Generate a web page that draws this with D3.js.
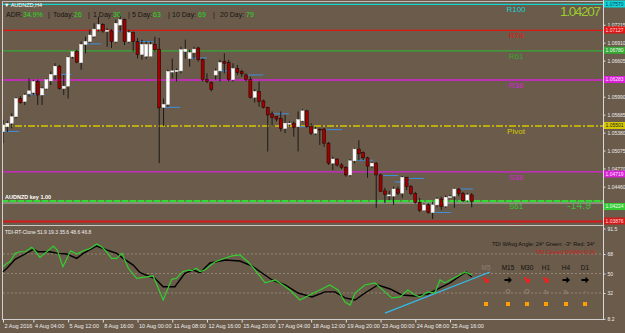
<!DOCTYPE html>
<html><head><meta charset="utf-8">
<script src="https://cdn.jsdelivr.net/npm/d3@7"></script>
<style>
html,body{margin:0;padding:0;background:#6b5b4a;}
svg{display:block;}
text{font-family:"Liberation Sans",Arial,sans-serif;}
</style></head><body>
<svg id="c" width="625" height="333"></svg>
<script>
// ---- DATA ----
// H4 candles AUDNZD: [open, high, low, close]
const candles = [
[1.0540,1.0560,1.0520,1.0551],[1.0548,1.0558,1.0539,1.0554],[1.0554,1.0571,1.0545,1.0565],[1.0565,1.0598,1.0562,1.0596],
[1.0596,1.0600,1.0587,1.0589],[1.0591,1.0605,1.0585,1.0602],[1.0604,1.0630,1.0599,1.0609],[1.0606,1.0628,1.0602,1.0625],
[1.0625,1.0628,1.0585,1.0602],[1.0602,1.0616,1.0585,1.0613],[1.0613,1.0630,1.0611,1.0628],[1.0626,1.0642,1.0619,1.0637],
[1.0636,1.0656,1.0628,1.0651],[1.0651,1.0653,1.0611,1.0613],[1.0613,1.0636,1.0602,1.0617],[1.0617,1.0667,1.0596,1.0666],
[1.0667,1.0677,1.0664,1.0676],[1.0676,1.0679,1.0656,1.0658],[1.0657,1.0693,1.0645,1.0688],[1.0688,1.0701,1.0673,1.0693],
[1.0693,1.0713,1.0690,1.0704],[1.0702,1.0724,1.0699,1.0714],[1.0714,1.0735,1.0710,1.0722],[1.0722,1.0724,1.0708,1.0711],
[1.0711,1.0716,1.0684,1.0712],[1.0711,1.0714,1.0682,1.0693],[1.0693,1.0730,1.0690,1.0724],[1.0721,1.0741,1.0710,1.0730],
[1.0730,1.0732,1.0687,1.0693],[1.0693,1.0713,1.0690,1.0708],[1.0708,1.0710,1.0676,1.0693],[1.0693,1.0699,1.0664,1.0671],
[1.0671,1.0696,1.0662,1.0688],[1.0668,1.0693,1.0663,1.0688],[1.0668,1.0693,1.0667,1.0688],[1.0688,1.0701,1.0676,1.0679],
[1.0680,1.0699,1.0486,1.0580],[1.0581,1.0596,1.0549,1.0586],[1.0586,1.0645,1.0582,1.0642],[1.0641,1.0664,1.0630,1.0643],
[1.0642,1.0647,1.0625,1.0644],[1.0643,1.0684,1.0639,1.0679],[1.0676,1.0696,1.0664,1.0680],[1.0664,1.0679,1.0650,1.0674],
[1.0674,1.0684,1.0664,1.0680],[1.0682,1.0684,1.0659,1.0662],[1.0662,1.0664,1.0625,1.0628],[1.0628,1.0639,1.0622,1.0625],
[1.0623,1.0625,1.0608,1.0611],[1.0636,1.0647,1.0628,1.0643],[1.0643,1.0662,1.0625,1.0657],[1.0659,1.0673,1.0639,1.0656],
[1.0657,1.0662,1.0625,1.0628],[1.0628,1.0656,1.0625,1.0647],[1.0647,1.0653,1.0636,1.0640],[1.0642,1.0645,1.0633,1.0638],
[1.0636,1.0639,1.0625,1.0628],[1.0628,1.0633,1.0596,1.0598],[1.0598,1.0612,1.0589,1.0608],[1.0608,1.0625,1.0582,1.0591],
[1.0592,1.0594,1.0579,1.0581],[1.0581,1.0582,1.0506,1.0568],[1.0570,1.0574,1.0548,1.0564],[1.0565,1.0566,1.0557,1.0561],
[1.0562,1.0574,1.0540,1.0545],[1.0545,1.0568,1.0537,1.0554],[1.0554,1.0557,1.0548,1.0554],[1.0554,1.0557,1.0531,1.0547],
[1.0548,1.0574,1.0506,1.0560],[1.0558,1.0578,1.0556,1.0575],[1.0575,1.0577,1.0546,1.0548],[1.0548,1.0554,1.0534,1.0537],
[1.0537,1.0548,1.0534,1.0544],[1.0544,1.0545,1.0517,1.0543],[1.0544,1.0546,1.0514,1.0520],[1.0520,1.0522,1.0483,1.0486],
[1.0486,1.0497,1.0474,1.0493],[1.0493,1.0494,1.0480,1.0483],[1.0483,1.0486,1.0476,1.0479],[1.0479,1.0481,1.0463,1.0466],
[1.0466,1.0493,1.0463,1.0490],[1.0490,1.0512,1.0486,1.0510],[1.0510,1.0525,1.0491,1.0502],[1.0504,1.0506,1.0491,1.0495],
[1.0495,1.0497,1.0461,1.0481],[1.0481,1.0488,1.0478,1.0486],[1.0486,1.0488,1.0410,1.0466],[1.0466,1.0468,1.0437,1.0438],
[1.0439,1.0444,1.0418,1.0433],[1.0432,1.0439,1.0423,1.0432],[1.0430,1.0446,1.0415,1.0442],[1.0442,1.0446,1.0432,1.0435],
[1.0435,1.0464,1.0427,1.0462],[1.0462,1.0463,1.0440,1.0446],[1.0446,1.0449,1.0432,1.0434],[1.0434,1.0437,1.0417,1.0419],
[1.0419,1.0427,1.0403,1.0406],[1.0406,1.0418,1.0405,1.0415],[1.0415,1.0418,1.0400,1.0402],[1.0402,1.0420,1.0391,1.0415],
[1.0415,1.0428,1.0411,1.0425],[1.0425,1.0429,1.0406,1.0412],[1.0413,1.0431,1.0410,1.0428],[1.0429,1.0432,1.0427,1.0429],
[1.0430,1.0444,1.0410,1.0442],[1.0442,1.0443,1.0430,1.0434],[1.0434,1.0437,1.0420,1.0422],[1.0423,1.0435,1.0420,1.0432],
[1.0432,1.0435,1.0411,1.0421]
];
// short blue level segments: [fromBar, toBar, price]
const blueSegs = [
[0,3.7,1.0540],[5.8,9.7,1.0603],[13.1,15.7,1.0637],[18.9,22.6,1.0689],[25.3,27.6,1.0711],[31.1,34.6,1.0693],
[36.9,40.8,1.0581],[43.1,47,1.0665],[50,53,1.0643],[56.5,60,1.0636],[62.2,65.9,1.0570],[68.2,70.3,1.0548],
[74.2,78.1,1.0543],[81.6,85.3,1.0491],[87.6,91,1.0465],[90.3,93.8,1.0454],[93.5,97,1.0460],[99.5,103.2,1.0402],[105.3,108.3,1.0442]
];
const levelNames  = ["R100","R78","R61","R38","Pivot","S38","S61","S78"];
const levelValues = [1.07570,1.07127,1.06780,1.06283,1.05501,1.04719,1.04224,1.03876];
const levelColors = ["#11d4d4","#e01515","#35a835","#d822d8","#d6c800","#d822d8","#33cc33","#d21a1a"];
const priceTicks = [1.07215,1.06910,1.06605,1.05990,1.05685,1.05380,1.05075,1.04770,1.04460];
const xTickBars   = [0,7,15,23,31,39,47,55,63,71,79,87,95,103];
const xTickLabels = ["2 Aug 2016","4 Aug 04:00","5 Aug 12:00","8 Aug 16:00","10 Aug 00:00","11 Aug 08:00","12 Aug 16:00",
  "15 Aug 20:00","17 Aug 04:00","18 Aug 12:00","19 Aug 20:00","23 Aug 00:00","24 Aug 08:00","25 Aug 16:00"];
// TDI sub-window: [bar, value]
const tdiGreen = [[0,56.3],[0.9,59.4],[1.6,60.9],[2.8,68.6],[3.9,70.1],[5.1,70.1],[6.6,74.2],[7.4,71.0],[8.5,64.9],[10.1,70.1],
[11.6,75.4],[12.5,71.7],[13.8,56.3],[15.6,71.0],[17.0,68.0],[18.5,71.0],[20.0,72.9],[21.6,77.2],[22.7,74.7],[23.9,70.1],
[25.0,64.0],[26.2,64.0],[27.4,68.6],[28.9,54.8],[30.8,45.6],[34.6,47.7],[35.0,44.0],[36.9,25.5],[38.9,44.6],[40.0,45.6],
[41.4,51.7],[42.7,53.2],[43.5,52.6],[44.6,54.8],[45.4,51.7],[46.5,53.2],[48.8,60.6],[51.2,64.3],[52.8,66.2],[54.6,67.1],
[56.5,60.6],[58.1,53.2],[60.4,41.3],[62.7,44.0],[64.5,39.4],[66.1,34.8],[68.4,25.5],[70.7,30.2],[73.0,34.8],[75.3,39.4],
[77.2,34.8],[78.8,23.7],[80.0,20.9],[81.1,32.0],[83.4,39.4],[85.7,41.3],[88.0,33.0],[89.6,27.5],[91.5,28.4],[93.3,34.8],
[94.9,30.2],[96.1,28.4],[97.9,33.0],[99.5,32.0],[100.7,44.0],[101.8,41.3],[103.0,44.0],[104.8,47.7],[106.5,51.4],[108,48.6]];
const tdiBlack = [[0,51.7],[0.9,54.8],[2.8,63.1],[5.1,68.0],[7.0,72.3],[8.1,70.1],[10.8,70.1],[12.7,68.6],[14.7,68.0],[17.0,64.0],
[18.5,68.6],[21.6,75.4],[23.9,71.7],[26.2,68.6],[27.7,64.0],[30.0,57.8],[31.6,50.7],[33.9,47.0],[35.0,45.6],[36.9,37.8],
[39.6,37.8],[41.9,50.2],[43.8,53.2],[45.4,50.7],[47.7,59.7],[51.2,62.5],[54.6,61.5],[57.4,56.9],[59.7,50.5],[62.0,44.0],
[65.0,39.4],[68.0,32.0],[71.2,28.4],[74.2,33.0],[76.5,33.0],[78.8,27.5],[81.1,25.5],[83.4,32.0],[86.4,39.4],[89.2,35.7],
[91.9,30.2],[94.9,29.3],[97.9,31.1],[100.7,36.7],[103.0,41.3],[105.3,47.7],[106.7,51.4],[108,46.8]];
const tdiTrend = [[88.0,13.5],[112.2,51.4]];
const tdiLevels = [68,50,32];
const tdiTicks = [91.5,68,50,32,8.2];
const tfNames = ["M5","M15","M30","H1","H4","D1"];
const tfDir   = ["down","flat","down","down","flat","flat"];
const tfMarks = ["\u00b7","O","O","\u044a","\u044a","\u00b7"];
const adrParts = [["ADR:",0],["34.9%",1],["|",0],["Today:",0],["26",1],["|",0],["1 Day:",0],["30",1],["|",0],
  ["5 Day:",0],["63",1],["|",0],["10 Day:",0],["69",1],["|",0],["20 Day:",0],["79",1]];
const adrX = [6,23,48,53,74,88,93,113,128,132,153,168,172,198,213,220,246];
const lastPrice = 1.04207;
const spreadText = "-14.9";

// ---- DRAW ----
const svg = d3.select("#c");
const x  = d3.scaleLinear().domain([0,108]).range([3,471.7]);
const yP = d3.scaleLinear().domain([1.03893,1.07636]).range([220,0]);
const yT = d3.scaleLinear().domain([8,93.85]).range([319,226]);

svg.append("rect").attr("width",625).attr("height",333).attr("fill","#6b5b4a");
const defs = svg.append("defs");
defs.append("clipPath").attr("id","cm").append("rect").attr("x",2).attr("y",1.5).attr("width",601).attr("height",223);
defs.append("clipPath").attr("id","cs").append("rect").attr("x",2).attr("y",226).attr("width",601).attr("height",93);

const gm = svg.append("g").attr("clip-path","url(#cm)");

// level lines
levelValues.forEach((v,i)=>{
  const ln = gm.append("line").attr("x1",2).attr("x2",603).attr("y1",yP(v)+0.5).attr("y2",yP(v)+0.5)
    .attr("stroke",levelColors[i]).attr("stroke-width", i===7?2:1.3);
  if(levelNames[i]==="Pivot") ln.attr("stroke-dasharray","7,2,2,2");
});
// bid line
gm.append("line").attr("x1",2).attr("x2",603).attr("y1",yP(lastPrice)+1.5).attr("y2",yP(lastPrice)+1.5)
  .attr("stroke","#b8b8b8").attr("stroke-width",1);
// S61 dashed overlay
gm.append("line").attr("x1",2).attr("x2",603).attr("y1",yP(levelValues[6])+0.5).attr("y2",yP(levelValues[6])+0.5)
  .attr("stroke","#38d838").attr("stroke-width",2.2).attr("stroke-dasharray","6,2");

// blue segments
gm.selectAll("line.bs").data(blueSegs).enter().append("line").attr("class","bs")
  .attr("x1",d=>x(d[0])).attr("x2",d=>x(d[1])).attr("y1",d=>yP(d[2])).attr("y2",d=>yP(d[2]))
  .attr("stroke","#3f8fdc").attr("stroke-width",1);

// candles
const cg = gm.selectAll("g.c").data(candles).enter().append("g");
cg.append("line").attr("x1",(d,i)=>x(i)).attr("x2",(d,i)=>x(i))
  .attr("y1",d=>yP(d[1])).attr("y2",d=>yP(d[2])).attr("stroke","#1a1a1a").attr("stroke-width",1);
cg.append("rect").attr("x",(d,i)=>x(i)-1.5).attr("width",3)
  .attr("y",d=>yP(Math.max(d[0],d[3])))
  .attr("height",d=>Math.max(1,Math.abs(yP(d[0])-yP(d[3]))))
  .attr("fill",d=>d[3]>=d[0]?"#ffffff":"#a00000")
  .attr("stroke",d=>d[3]>=d[0]?"#e8e8e8":"#1a0000").attr("stroke-width",0.5);

// level labels
levelNames.forEach((n,i)=>{
  gm.append("text").attr("x",516).attr("y",yP(levelValues[i])+8.5).attr("text-anchor","middle")
    .attr("font-size",8).attr("fill",levelColors[i]).text(n);
});

// title & ADR
svg.append("text").attr("x",4).attr("y",7).attr("font-size",5.5).attr("fill","#ffffff").text("\u25bc AUDNZD,H4");
adrParts.forEach((p,i)=>{
  svg.append("text").attr("x",adrX[i]).attr("y",17).attr("font-size",7)
    .attr("fill",p[1]?"#22dd22":"#151515").text(p[0]);
});
svg.append("text").attr("x",601).attr("y",16).attr("text-anchor","end").attr("font-size",13.5)
  .attr("fill","#9acd32").attr("textLength",41).text(d3.format(".5f")(lastPrice));
svg.append("text").attr("x",591).attr("y",209).attr("text-anchor","end").attr("font-size",10.5)
  .attr("fill","#3fbf3f").text(spreadText);
svg.append("text").attr("x",5).attr("y",199).attr("font-size",5.5).attr("font-weight","bold")
  .attr("fill","#ffffff").text("AUDNZD key 1.00");

// frame
svg.append("line").attr("x1",2.5).attr("x2",2.5).attr("y1",1).attr("y2",319).attr("stroke","#d0d0d0");
svg.append("line").attr("x1",2).attr("x2",603).attr("y1",1.5).attr("y2",1.5).attr("stroke","#bdbdbd");
svg.append("line").attr("x1",2).attr("x2",603).attr("y1",225.5).attr("y2",225.5).attr("stroke","#c8c8c8");
svg.append("line").attr("x1",2).attr("x2",603).attr("y1",319.5).attr("y2",319.5).attr("stroke","#d0d0d0");
svg.append("line").attr("x1",603.5).attr("x2",603.5).attr("y1",0).attr("y2",320).attr("stroke","#d8d8d8");

// price axis
const pa = svg.append("g").attr("transform","translate(603.5,0)")
  .call(d3.axisRight(yP).tickValues(priceTicks).tickSize(2).tickSizeOuter(0).tickFormat(d3.format(".5f")));
pa.select(".domain").remove();
pa.selectAll("line").attr("stroke","#e0e0e0");
pa.selectAll("text").attr("font-size",5).attr("fill","#eeeeee").attr("x",4).attr("font-family","Liberation Sans, Arial");

// price boxes
const boxTxt = ["#0a3a6a","#ffdddd","#eaffea","#ffe0ff","#222222","#ffe0ff","#eaffea","#ffdddd"];
const boxShift = [0,0,0,0,0,2.5,6,0];
levelValues.forEach((v,i)=>{
  const yy = Math.max(4, yP(v)) + boxShift[i];
  svg.append("rect").attr("x",604).attr("y",yy-3.5).attr("width",21).attr("height",7).attr("fill",levelColors[i]);
  svg.append("text").attr("x",605.5).attr("y",yy+1.8).attr("font-size",5).attr("fill",boxTxt[i]).text(d3.format(".5f")(v));
});

// ---- TDI sub window ----
const gs = svg.append("g").attr("clip-path","url(#cs)");
tdiLevels.forEach(v=>{
  gs.append("line").attr("x1",3).attr("x2",603).attr("y1",yT(v)).attr("y2",yT(v))
    .attr("stroke","#a09282").attr("stroke-width",0.8).attr("stroke-dasharray","2,2");
});
const lineT = d3.line().x(d=>x(d[0])).y(d=>yT(d[1]));
gs.append("path").datum(tdiTrend).attr("d",lineT).attr("fill","none").attr("stroke","#33bbee").attr("stroke-width",1.3);
gs.append("path").datum(tdiBlack).attr("d",lineT).attr("fill","none").attr("stroke","#000000").attr("stroke-width",1.4);
gs.append("path").datum(tdiGreen).attr("d",lineT).attr("fill","none").attr("stroke","#2fd02f").attr("stroke-width",1.2);

svg.append("text").attr("x",5).attr("y",234).attr("font-size",5).attr("fill","#f0f0f0")
  .text("TDI-RT-Clone 51.9 19.3 35.6 48.6 46.8");
svg.append("text").attr("x",595).attr("y",246).attr("text-anchor","end").attr("font-size",5.6).attr("fill","#111")
  .text("TDI WAvg Angle: 24\u00b0  Green: -3\u00b0  Red: 34\u00b0");
svg.append("text").attr("x",595).attr("y",254).attr("text-anchor","end").attr("font-size",5.6).attr("fill","#d02020")
  .text("TDI Closed DOWN [0.3]");

const tfX = [486,508,527,546,566,585];
tfNames.forEach((n,i)=>{
  svg.append("text").attr("x",tfX[i]).attr("y",270).attr("text-anchor","middle").attr("font-size",6.5)
    .attr("fill", i===0?"#8e8070":"#111").text(n);
  const ang = tfDir[i]==="down"?45:0;
  svg.append("path").attr("d","M-3.5,-1 L0.5,-1 L0.5,-3.2 L4,0 L0.5,3.2 L0.5,1 L-3.5,1 Z")
    .attr("transform",`translate(${tfX[i]},280) rotate(${ang})`)
    .attr("fill", tfDir[i]==="down"?"#ff1a1a":"#000");
  svg.append("text").attr("x",tfX[i]).attr("y",294).attr("text-anchor","middle").attr("font-size",7)
    .attr("font-weight","bold").attr("fill","#8e8070").text(tfMarks[i]);
  svg.append("rect").attr("x",tfX[i]-2).attr("y",302).attr("width",4).attr("height",4).attr("fill","#ffa000");
});

// sub axis
const sa = svg.append("g").attr("transform","translate(603.5,0)")
  .call(d3.axisRight(yT).tickValues(tdiTicks).tickSize(2).tickSizeOuter(0).tickFormat(d=>String(d)));
sa.select(".domain").remove();
sa.selectAll("line").attr("stroke","#e0e0e0");
sa.selectAll("text").attr("font-size",5).attr("fill","#eeeeee").attr("x",4).attr("font-family","Liberation Sans, Arial");

// time axis
const ta = svg.append("g").attr("transform","translate(0,319.5)")
  .call(d3.axisBottom(x).tickValues(xTickBars).tickSize(3).tickSizeOuter(0).tickFormat((d,i)=>xTickLabels[i]));
ta.select(".domain").remove();
ta.selectAll("line").attr("stroke","#e0e0e0");
ta.selectAll("text").attr("font-size",5.5).attr("fill","#eeeeee").attr("text-anchor","start")
  .attr("x",1).attr("y",5).attr("dy","0.71em").attr("font-family","Liberation Sans, Arial");
</script>
</body></html>
